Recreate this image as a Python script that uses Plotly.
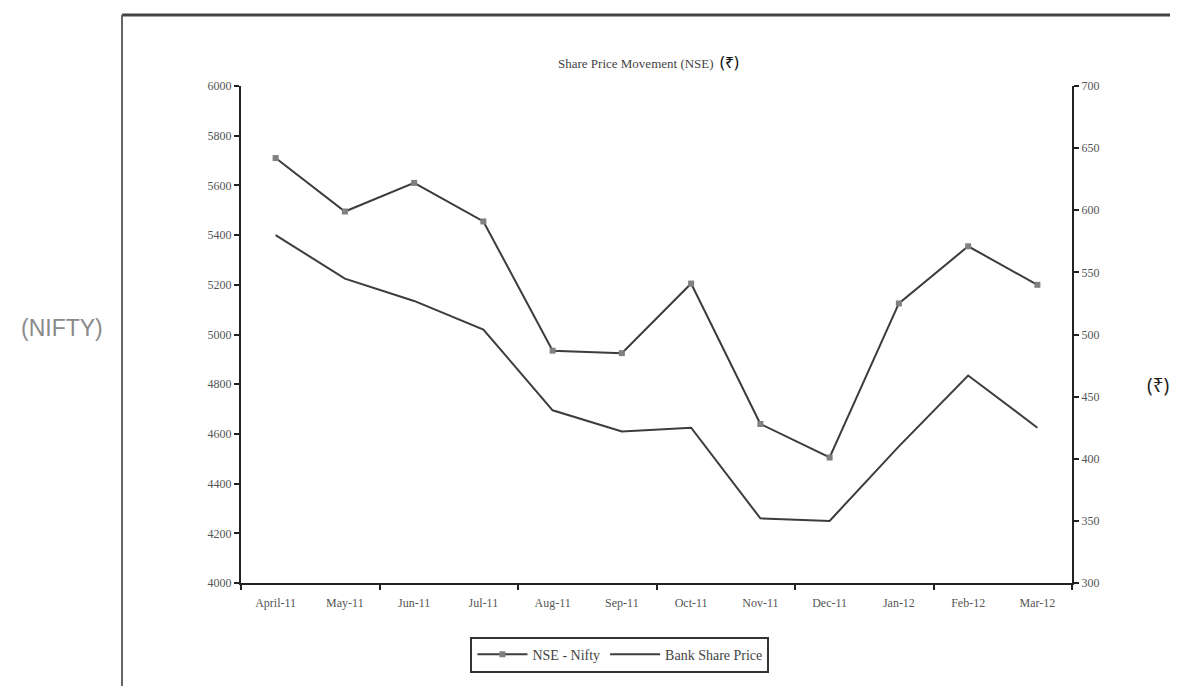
import plotly.graph_objects as go

months = ["April-11", "May-11", "Jun-11", "Jul-11", "Aug-11", "Sep-11",
          "Oct-11", "Nov-11", "Dec-11", "Jan-12", "Feb-12", "Mar-12"]
nifty = [5710, 5495, 5610, 5455, 4935, 4925, 5205, 4640, 4505, 5125, 5355, 5200]
bank_price = [580, 545, 527, 504, 439, 422, 425, 352, 350, 410, 467, 425]
left_ticks = [4000, 4200, 4400, 4600, 4800, 5000, 5200, 5400, 5600, 5800, 6000]
right_ticks = [300, 350, 400, 450, 500, 550, 600, 650, 700]

xpos = list(range(len(months)))
boundaries = [i - 0.5 for i in range(0, len(months) + 1, 2)]

line_col = "#3c3c3c"
tick_font = dict(family="Liberation Serif, serif", size=12, color="#555555")

fig = go.Figure()
fig.add_trace(go.Scatter(
    x=xpos, y=nifty, name="NSE - Nifty", mode="lines+markers",
    line=dict(color=line_col, width=2),
    marker=dict(symbol="square", size=6, color="#808080", line=dict(width=0)),
    yaxis="y"))
fig.add_trace(go.Scatter(
    x=xpos, y=bank_price, name="Bank Share Price", mode="lines",
    line=dict(color=line_col, width=2), yaxis="y2"))

fig.update_layout(
    width=1170, height=678,
    paper_bgcolor="white", plot_bgcolor="white",
    margin=dict(l=233, r=106, t=78, b=103),
    showlegend=True,
    legend=dict(orientation="h", x=0.456, y=-0.108, xanchor="center", yanchor="top",
                bordercolor="#333333", borderwidth=2, bgcolor="white",
                font=dict(family="Liberation Serif, serif", size=14, color="#444444"),
                itemwidth=50),
    xaxis=dict(range=[-0.5, len(months) - 0.5], tickvals=xpos, ticktext=months,
               ticks="", showgrid=False, zeroline=False,
               showline=True, linecolor="#222222", linewidth=2,
               tickfont=tick_font, ticklabelstandoff=8,
               minor=dict(tickvals=boundaries, ticks="outside", ticklen=5,
                          tickcolor="#222222", tickwidth=2)),
    yaxis=dict(range=[4000, 6000], tickvals=left_ticks,
               ticktext=[str(v) for v in left_ticks],
               ticks="outside", ticklen=5, tickwidth=2, tickcolor="#222222",
               showgrid=False, zeroline=False,
               showline=True, linecolor="#222222", linewidth=2,
               tickfont=tick_font),
    yaxis2=dict(range=[300, 700], tickvals=right_ticks,
                ticktext=[str(v) for v in right_ticks],
                overlaying="y", side="right",
                ticks="outside", ticklen=5, tickwidth=2, tickcolor="#222222",
                showgrid=False, zeroline=False,
                showline=True, linecolor="#222222", linewidth=2,
                tickfont=tick_font),
)

fig.add_annotation(
    text="Share Price Movement (NSE)  <span style='font-family:Noto Sans;font-size:16px;color:#111'>(₹)</span>",
    xref="paper", yref="paper", x=0.49, y=1.048, xanchor="center", yanchor="middle",
    showarrow=False,
    font=dict(family="Liberation Serif, serif", size=13, color="#444444"))
fig.add_annotation(
    text="(NIFTY)", xref="paper", yref="paper", x=-0.2154, y=0.513,
    xanchor="center", yanchor="middle", showarrow=False,
    font=dict(family="Liberation Sans, Arial, sans-serif", size=23, color="#8a8a8a"))
fig.add_annotation(
    text="(₹)", xref="paper", yref="paper", x=1.103, y=0.398,
    xanchor="center", yanchor="middle", showarrow=False,
    font=dict(family="Noto Sans, sans-serif", size=19, color="#222222"))

# partial outer frame (top and left edges)
fig.add_shape(type="line", xref="paper", yref="paper",
              x0=-0.1432, y0=1.1429, x1=1.14, y1=1.1429,
              line=dict(color="#444444", width=3))
fig.add_shape(type="line", xref="paper", yref="paper",
              x0=-0.1432, y0=1.1429, x1=-0.1432, y1=-0.21,
              line=dict(color="#666666", width=2))

fig.write_html("out.html")
